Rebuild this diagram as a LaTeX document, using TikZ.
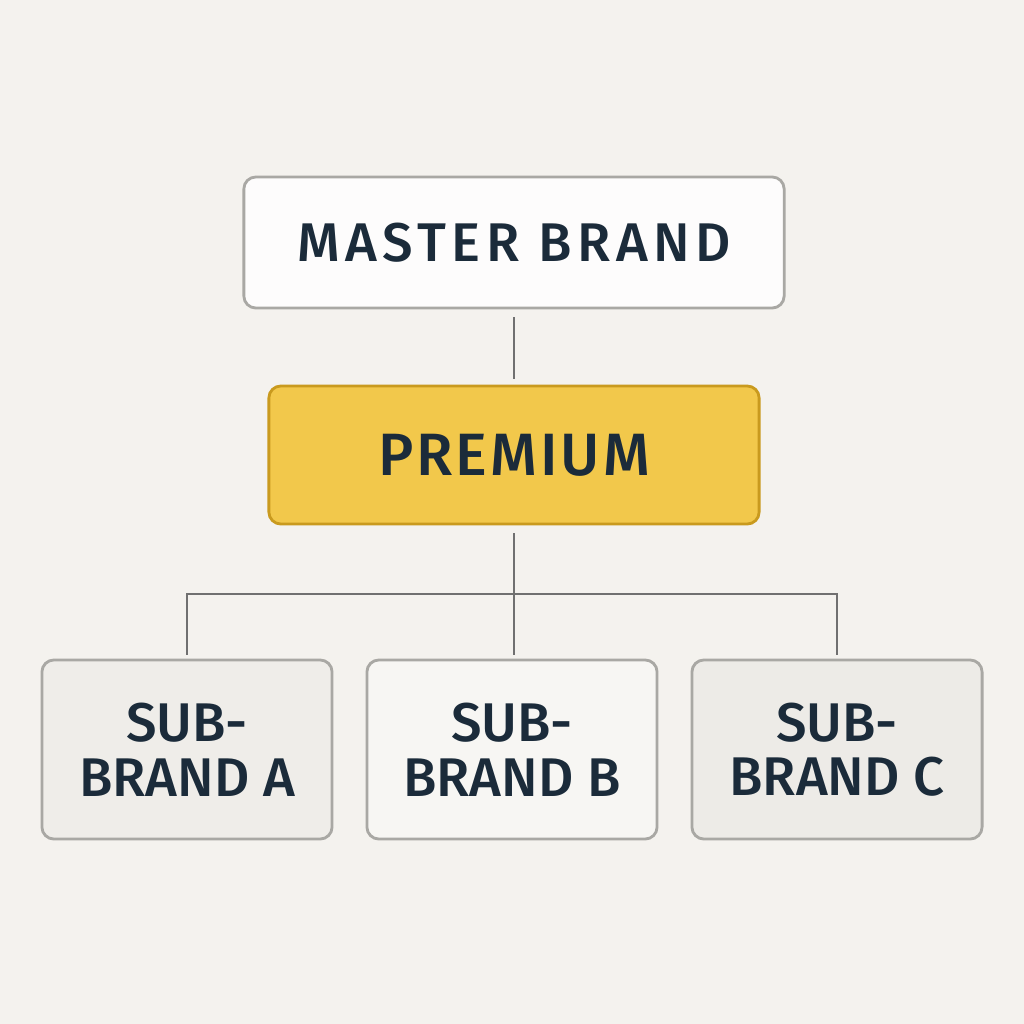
\documentclass[tikz,border=0pt]{standalone}
\usepackage{fontspec}
\usepackage{xcolor}
\usepackage{tikz}
\usetikzlibrary{positioning}
\newfontfamily\brandfont{Fira Sans Medium}
\newfontfamily\widebrandfont{Fira Sans Medium}[LetterSpace=10]
\newfontfamily\tierfont{Fira Sans Medium}[LetterSpace=5]

\definecolor{paper}{HTML}{F4F2EE}
\definecolor{ink}{HTML}{1B2B3A}
\definecolor{boxline}{HTML}{A9A8A4}
\definecolor{gold}{HTML}{F2C84B}
\definecolor{golddark}{HTML}{C99A1E}
\definecolor{linkgray}{HTML}{707070}

\begin{document}
\begin{tikzpicture}[x=0.01cm, y=-0.01cm,
	brandbox/.style={draw=boxline, line width=0.8pt, rounded corners=0.12cm, fill=white!60!paper,
		font=\brandfont\fontsize{15.5}{15.5}\selectfont, text=ink, align=center, inner sep=0},
	topbox/.style={brandbox, minimum width=5.4cm, minimum height=1.31cm, fill=white!80!paper,
		font=\widebrandfont\fontsize{15.5}{15.5}\selectfont},
	tierbox/.style={brandbox, minimum width=4.9cm, minimum height=1.38cm, fill=gold, draw=golddark,
		font=\tierfont\fontsize{17}{17}\selectfont},
	subbox/.style={brandbox, minimum width=2.9cm, minimum height=1.79cm},
	link/.style={draw=linkgray, line width=0.75pt}
]
\fill[paper] (0,0) rectangle (1024,1024);

\node[topbox] (master) at (514, 242.5) {MASTER BRAND};
\node[tierbox] (premium) at (514, 455) {PREMIUM};
\node[subbox, fill=black!2!paper] (subA) at (187, 749.5) {SUB-\\BRAND A};
\node[subbox, fill=white!30!paper] (subB) at (512, 749.5) {SUB-\\BRAND B};
\node[subbox, fill=black!3!paper] (subC) at (837, 749.5) {SUB-\\BRAND C};

\coordinate (bus) at (514, 594);

\draw[link, shorten <=0.08cm, shorten >=0.06cm] (master) -- (premium);
\draw[link, shorten <=0.08cm] (premium) -- (bus);
\draw[link, shorten >=0.04cm] (bus) -| (subA.north);
\draw[link, shorten >=0.04cm] (bus) -- (bus |- subB.north);
\draw[link, shorten >=0.04cm] (bus) -| (subC.north);
\end{tikzpicture}
\end{document}
